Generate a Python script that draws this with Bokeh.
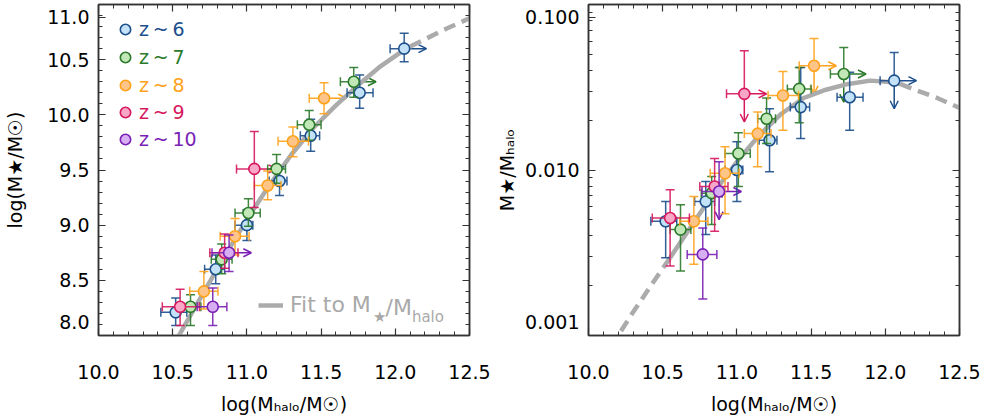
import math
from bokeh.plotting import figure
from bokeh.layouts import row
from bokeh.models import (ColumnDataSource, LinearAxis, LogAxis, FixedTicker,
                          PrintfTickFormatter, Range1d, Arrow, OpenHead, Label,
                          Legend, LegendItem)
from bokeh.embed import file_html
from bokeh.resources import INLINE

# ---------------- data ----------------
SERIES_LABELS = ["z\u2009~\u20096", "z\u2009~\u20097", "z\u2009~\u20098",
                 "z\u2009~\u20099", "z\u2009~\u200910"]
EDGE_COLORS = ["#1c4f8c", "#2b7a2b", "#ffa21c", "#d6185e", "#7a1fb4"]
FILL_COLORS = ["#c4e2f7", "#c2e8b8", "#ffc588", "#f8a8c6", "#d8aef2"]

# z~6
Z6_LOGMH = [12.06, 11.76, 11.43, 11.22, 11.00, 10.79, 10.52]
Z6_LOGMS = [10.60, 10.20, 9.81, 9.40, 9.00, 8.60, 8.21]
Z6_XERR_LO = [0.095, 0.085, 0.07, 0.07, 0.08, 0.075, 0.10]
Z6_XERR_HI = [0.0, 0.09, 0.06, 0.05, 0.04, 0.06, 0.075]
Z6_YERR_LO = [0.12, 0.14, 0.14, 0.13, 0.14, 0.13, 0.12]
Z6_YERR_HI = [0.14, 0.16, 0.15, 0.13, 0.14, 0.13, 0.13]
Z6_RERR_LO = [0.0, 0.20, 0.19, 0.19, 0.19, 0.20, 0.22]
Z6_RERR_HI = [0.17, 0.15, 0.24, 0.19, 0.17, 0.12, 0.12]
Z6_LIMIT = [True, False, False, False, False, False, False]

# z~7
Z7_LOGMH = [11.72, 11.42, 11.20, 11.01, 10.83, 10.62]
Z7_LOGMS = [10.30, 9.91, 9.51, 9.11, 8.69, 8.26]
Z7_XERR_LO = [0.09, 0.08, 0.06, 0.09, 0.07, 0.07]
Z7_XERR_HI = [0.0, 0.08, 0.06, 0.08, 0.07, 0.07]
Z7_YERR_LO = [0.14, 0.14, 0.13, 0.12, 0.13, 0.17]
Z7_YERR_HI = [0.13, 0.13, 0.13, 0.13, 0.14, 0.11]
Z7_RERR_LO = [0.0, 0.205, 0.15, 0.20, 0.19, 0.25]
Z7_RERR_HI = [0.16, 0.13, 0.125, 0.125, 0.10, 0.15]
Z7_LIMIT = [True, False, False, False, False, False]

# z~8
Z8_LOGMH = [11.52, 11.31, 11.14, 10.92, 10.71]
Z8_LOGMS = [10.15, 9.76, 9.36, 8.90, 8.40]
Z8_XERR_LO = [0.10, 0.10, 0.09, 0.10, 0.095]
Z8_XERR_HI = [0.0, 0.105, 0.09, 0.095, 0.095]
Z8_YERR_LO = [0.14, 0.14, 0.13, 0.17, 0.16]
Z8_YERR_HI = [0.14, 0.13, 0.13, 0.16, 0.18]
Z8_RERR_LO = [0.0, 0.21, 0.20, 0.245, 0.26]
Z8_RERR_HI = [0.165, 0.145, 0.13, 0.16, 0.15]
Z8_LIMIT = [True, False, False, False, False]

# z~9
Z9_LOGMH = [11.05, 10.85, 10.55]
Z9_LOGMS = [9.51, 8.75, 8.26]
Z9_XERR_LO = [0.12, 0.10, 0.12]
Z9_XERR_HI = [0.0, 0.09, 0.13]
Z9_YERR_LO = [0.35, 0.14, 0.17]
Z9_YERR_HI = [0.34, 0.17, 0.16]
Z9_RERR_LO = [0.0, 0.27, 0.29]
Z9_RERR_HI = [0.26, 0.17, 0.17]
Z9_LIMIT = [True, False, False]

# z~10
Z10_LOGMH = [10.88, 10.77]
Z10_LOGMS = [8.75, 8.26]
Z10_XERR_LO = [0.115, 0.105]
Z10_XERR_HI = [0.0, 0.095]
Z10_YERR_LO = [0.17, 0.17]
Z10_YERR_HI = [0.16, 0.17]
Z10_RERR_LO = [0.0, 0.27]
Z10_RERR_HI = [0.18, 0.16]
Z10_LIMIT = [True, False]

# fitted M*/Mhalo relation (log10 ratio vs log Mhalo)
FIT_LOGMH = [10.15, 10.30, 10.45, 10.55, 10.70, 10.85, 11.00, 11.15, 11.30,
             11.45, 11.60, 11.75, 11.90, 12.05, 12.10, 12.20, 12.35, 12.50]
FIT_LOGRATIO = [-3.07, -2.86, -2.66, -2.53, -2.33, -2.13, -1.95, -1.79, -1.66,
                -1.565, -1.515, -1.48, -1.46, -1.47, -1.48, -1.515, -1.565, -1.625]
FIT_SOLID_MIN = 10.55
FIT_SOLID_MAX = 12.10

X_TICKS = [10.0, 10.5, 11.0, 11.5, 12.0, 12.5]
LEFT_Y_TICKS = [8.0, 8.5, 9.0, 9.5, 10.0, 10.5, 11.0]
RIGHT_Y_TICKS = [0.001, 0.01, 0.1]
LEFT_Y_LABELS = ["8.0", "8.5", "9.0", "9.5", "10.0", "10.5", "11.0"]
RIGHT_Y_LABELS = ["0.001", "0.010", "0.100"]

X_TITLE = "log(M\u2095\u2090\u2097\u2092/M\u2609)"
LEFT_Y_TITLE = "log(M\u2605/M\u2609)"
RIGHT_Y_TITLE = "M\u2605/M\u2095\u2090\u2097\u2092"

SERIES = [
    (Z6_LOGMH, Z6_LOGMS, Z6_XERR_LO, Z6_XERR_HI, Z6_YERR_LO, Z6_YERR_HI, Z6_RERR_LO, Z6_RERR_HI, Z6_LIMIT),
    (Z7_LOGMH, Z7_LOGMS, Z7_XERR_LO, Z7_XERR_HI, Z7_YERR_LO, Z7_YERR_HI, Z7_RERR_LO, Z7_RERR_HI, Z7_LIMIT),
    (Z8_LOGMH, Z8_LOGMS, Z8_XERR_LO, Z8_XERR_HI, Z8_YERR_LO, Z8_YERR_HI, Z8_RERR_LO, Z8_RERR_HI, Z8_LIMIT),
    (Z9_LOGMH, Z9_LOGMS, Z9_XERR_LO, Z9_XERR_HI, Z9_YERR_LO, Z9_YERR_HI, Z9_RERR_LO, Z9_RERR_HI, Z9_LIMIT),
    (Z10_LOGMH, Z10_LOGMS, Z10_XERR_LO, Z10_XERR_HI, Z10_YERR_LO, Z10_YERR_HI, Z10_RERR_LO, Z10_RERR_HI, Z10_LIMIT),
]

# ---------------- style ----------------
FONT = "DejaVu Sans"
FRAME_W, FRAME_H = 371, 331
AXIS_COLOR = "#333333"
FIT_COLOR = "#ababab"
ARROW_DX = 0.15      # length of limit arrows along log Mhalo
ARROW_DY_DEX = 0.17  # length of limit arrows along log ratio
TICK_FS = "19px"
TOP_LABEL_SHIFT_PX = 12.7   # the top tick label is drawn inside the frame, as in the reference

CHAR_W = {'l': 0.278, 'o': 0.612, 'g': 0.635, '(': 0.390, ')': 0.390, 'M': 0.863,
          '/': 0.337, 'h': 0.634, 'a': 0.613, '\u2605': 0.838, '\u2609': 0.838,
          'F': 0.575, 'i': 0.278, 't': 0.392, ' ': 0.318}


def text_width(t, size):
    return sum(CHAR_W.get(c, 0.6) for c in t) * size


def rich_text(p, pieces, x, y, color="black", baseline="middle"):
    pos = 0.0
    for t, s, d in pieces:
        p.add_layout(Label(x=x + pos, y=y - d, x_units="screen", y_units="screen", text=t,
                           text_font=FONT, text_font_size=f"{s}px", text_color=color,
                           text_align="left", text_baseline=baseline))
        pos += text_width(t, s)


def style_axis(ax, labels=True):
    ax.axis_line_color = AXIS_COLOR
    ax.axis_line_width = 1.5
    ax.major_tick_line_color = AXIS_COLOR
    ax.minor_tick_line_color = AXIS_COLOR
    ax.major_tick_line_width = 1.2
    ax.minor_tick_line_width = 1.0
    ax.major_tick_in = 7
    ax.major_tick_out = 0
    ax.minor_tick_in = 4
    ax.minor_tick_out = 0
    if labels:
        ax.major_label_text_font = FONT
        ax.major_label_text_font_size = TICK_FS
        ax.major_label_text_color = "black"
        ax.axis_label_text_font = FONT
        ax.axis_label_text_font_size = "19px"
        ax.axis_label_text_font_style = "normal"
        ax.axis_label_text_color = "black"
    else:
        ax.major_label_text_font_size = "0px"
        ax.major_label_text_color = None
        ax.major_label_standoff = 0


def make_fig(log_y, y_range, min_left, min_right):
    p = figure(frame_width=FRAME_W, frame_height=FRAME_H,
               x_range=Range1d(10.0, 12.5), y_range=y_range,
               y_axis_type="log" if log_y else "linear",
               output_backend="svg", toolbar_location=None,
               min_border_left=min_left, min_border_right=min_right,
               min_border_top=4, min_border_bottom=85)
    p.xgrid.visible = False
    p.ygrid.visible = False
    p.outline_line_color = AXIS_COLOR
    p.outline_line_width = 1.5
    p.background_fill_color = "white"
    p.border_fill_color = "white"
    return p


x_minor = [round(10.0 + 0.1 * i, 2) for i in range(26)]
x_ticker = FixedTicker(ticks=X_TICKS, minor_ticks=x_minor)
ly_minor = [round(8.0 + 0.1 * i, 2) for i in range(31)]
ry_minor = [k * 10.0 ** e for e in (-3, -2) for k in range(1, 10)] + [0.1]

# labelled tickers: the top label is moved just inside the frame; the bottom one is
# lifted with a trailing line break (both as in the reference)
l_top = LEFT_Y_TICKS[-1] - TOP_LABEL_SHIFT_PX * (LEFT_Y_TICKS[-1] - LEFT_Y_TICKS[0]) / FRAME_H
r_top = 10.0 ** (math.log10(RIGHT_Y_TICKS[-1]) - TOP_LABEL_SHIFT_PX * 2.0 / FRAME_H)
ly_label_ticks = LEFT_Y_TICKS[:-1] + [l_top]
ry_label_ticks = RIGHT_Y_TICKS[:-1] + [r_top]
ly_over = {t: lab for t, lab in zip(ly_label_ticks, LEFT_Y_LABELS)}
ry_over = {t: lab for t, lab in zip(ry_label_ticks, RIGHT_Y_LABELS)}
ly_over[ly_label_ticks[0]] = LEFT_Y_LABELS[0] + "\n"
ry_over[ry_label_ticks[0]] = RIGHT_Y_LABELS[0] + "\n"

ly_ticker = FixedTicker(ticks=ly_label_ticks, minor_ticks=ly_minor)
ry_ticker = FixedTicker(ticks=ry_label_ticks, minor_ticks=ry_minor)
ly_mirror = FixedTicker(ticks=LEFT_Y_TICKS, minor_ticks=ly_minor)
ry_mirror = FixedTicker(ticks=RIGHT_Y_TICKS, minor_ticks=ry_minor)

p1 = make_fig(False, Range1d(8.0, 11.0), 98, 22)
p2 = make_fig(True, Range1d(0.001, 0.1), 97, 21)

for p, yt, ym, yo, logy, ytitle, ystand in ((p1, ly_ticker, ly_mirror, ly_over, False, LEFT_Y_TITLE, 18),
                                            (p2, ry_ticker, ry_mirror, ry_over, True, RIGHT_Y_TITLE, 4)):
    xa = p.xaxis[0]
    xa.ticker = x_ticker
    xa.formatter = PrintfTickFormatter(format="%.1f")
    xa.major_label_standoff = 29
    style_axis(xa)
    xa.axis_label = X_TITLE
    xa.axis_label_standoff = 11
    ya = p.yaxis[0]
    ya.ticker = yt
    ya.formatter = PrintfTickFormatter(format="%.3f" if logy else "%.1f")
    ya.major_label_overrides = yo
    ya.major_label_standoff = 9
    style_axis(ya)
    ya.axis_label = ytitle
    ya.axis_label_standoff = ystand
    top = LinearAxis(ticker=x_ticker)
    style_axis(top, labels=False)
    p.add_layout(top, "above")
    right = LogAxis(ticker=ym) if logy else LinearAxis(ticker=ym)
    style_axis(right, labels=False)
    p.add_layout(right, "right")

# ---------------- fit curve ----------------
def split_fit(yvals):
    solid = [(x, y) for x, y in zip(FIT_LOGMH, yvals) if FIT_SOLID_MIN <= x <= FIT_SOLID_MAX]
    low = [(x, y) for x, y in zip(FIT_LOGMH, yvals) if x <= FIT_SOLID_MIN]
    high = [(x, y) for x, y in zip(FIT_LOGMH, yvals) if x >= FIT_SOLID_MAX]
    return solid, low, high


fit_left = [m + r for m, r in zip(FIT_LOGMH, FIT_LOGRATIO)]
fit_right = [10.0 ** r for r in FIT_LOGRATIO]
fit_renderers = []
for p, yv in ((p1, fit_left), (p2, fit_right)):
    solid, low, high = split_fit(yv)
    r = p.line([a for a, b in solid], [b for a, b in solid], line_color=FIT_COLOR, line_width=4.5)
    fit_renderers.append(r)
    for part in (low, high):
        p.line([a for a, b in part], [b for a, b in part], line_color=FIT_COLOR,
               line_width=4.5, line_dash="12 7")


# ---------------- data points ----------------
def draw_series(p, color, fill, x, y, xlo, xhi, ylo, yhi, lim, ydown):
    n = len(x)
    x0 = [x[k] - xlo[k] for k in range(n)]
    x1 = [x[k] + xhi[k] for k in range(n)]
    p.segment(x0=x0, y0=y, x1=x1, y1=y, line_color=color, line_width=1.5, line_alpha=0.9)
    p.segment(x0=x, y0=ylo, x1=x, y1=yhi, line_color=color, line_width=1.5, line_alpha=0.9)
    cx = x0 + [x1[k] for k in range(n) if not lim[k]]
    cy = list(y) + [y[k] for k in range(n) if not lim[k]]
    p.scatter(cx, cy, marker="dash", size=9, angle=math.pi / 2, line_color=color,
              line_width=1.5, line_alpha=0.9)
    vx = list(x) + [x[k] for k in range(n) if not (ydown and lim[k])]
    vy = list(yhi) + [ylo[k] for k in range(n) if not (ydown and lim[k])]
    p.scatter(vx, vy, marker="dash", size=9, line_color=color, line_width=1.5, line_alpha=0.9)
    li = [k for k in range(n) if lim[k]]
    if li:
        src = ColumnDataSource(dict(x=[x[k] for k in li], y=[y[k] for k in li],
                                    xe=[x[k] + ARROW_DX for k in li]))
        p.add_layout(Arrow(end=OpenHead(size=8, line_color=color, line_width=1.5),
                           x_start="x", y_start="y", x_end="xe", y_end="y", source=src,
                           line_color=color, line_width=1.5, level="underlay"))
        if ydown:
            src2 = ColumnDataSource(dict(x=[x[k] for k in li], y=[y[k] for k in li],
                                         ye=[y[k] / 10.0 ** ARROW_DY_DEX for k in li]))
            p.add_layout(Arrow(end=OpenHead(size=8, line_color=color, line_width=1.5),
                               x_start="x", y_start="y", x_end="x", y_end="ye", source=src2,
                               line_color=color, line_width=1.5, level="underlay"))
    return p.scatter(x, y, size=11, fill_color=fill, line_color=color, line_width=1.6)


legend_renderers = []
for i, (mh, ms, xlo, xhi, ylo, yhi, rlo, rhi, lim) in enumerate(SERIES):
    c, f = EDGE_COLORS[i], FILL_COLORS[i]
    n = len(mh)
    r = draw_series(p1, c, f, mh, ms, xlo, xhi,
                    [ms[k] - ylo[k] for k in range(n)], [ms[k] + yhi[k] for k in range(n)],
                    lim, False)
    legend_renderers.append(r)
    ratio = [10.0 ** (ms[k] - mh[k]) for k in range(n)]
    draw_series(p2, c, f, mh, ratio, xlo, xhi,
                [ratio[k] if lim[k] else ratio[k] / 10.0 ** rlo[k] for k in range(n)],
                [ratio[k] * 10.0 ** rhi[k] for k in range(n)], lim, True)

# ---------------- legends ----------------
LEG_ROWS = [306, 278, 250, 223, 196]
for i, lab in enumerate(SERIES_LABELS):
    lg = Legend(items=[LegendItem(label=lab, renderers=[legend_renderers[i]])],
                location=(14, LEG_ROWS[i] - 13), padding=0, margin=0, spacing=0,
                glyph_width=26, glyph_height=26, label_standoff=1,
                label_text_font=FONT, label_text_font_size="19px",
                label_text_color=EDGE_COLORS[i], background_fill_alpha=0,
                border_line_color=None)
    p1.add_layout(lg)

fit_lg = Legend(items=[LegendItem(label="Fit to M", renderers=[fit_renderers[0]])],
                location=(160, 18), padding=0, margin=0, glyph_width=25, glyph_height=20,
                label_standoff=7, label_text_font=FONT, label_text_font_size="22px",
                label_text_color="#a9a9a9", background_fill_alpha=0, border_line_color=None)
p1.add_layout(fit_lg)
rich_text(p1, [("\u2605", 15, 9), ("/M", 22, 0), ("halo", 15, 9)],
          160 + 25 + 7 + text_width("Fit to M", 22), 28, color="#a9a9a9")

layout = row(p1, p2)
open("out.html", "w").write(file_html(layout, INLINE))
